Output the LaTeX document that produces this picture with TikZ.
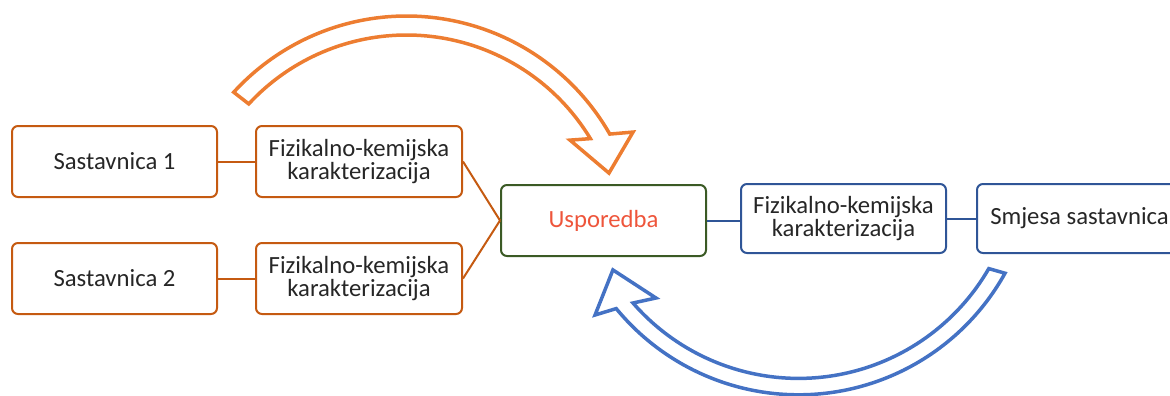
\documentclass[tikz,border=0pt]{standalone}
\usepackage{fontspec}
\setmainfont{Carlito}
\definecolor{txt}{HTML}{262626}
\definecolor{obox}{HTML}{C55A11}
\definecolor{oarr}{HTML}{ED7D31}
\definecolor{gbox}{HTML}{3B5A25}
\definecolor{bbox}{HTML}{2F5597}
\definecolor{barr}{HTML}{4472C4}
\definecolor{utxt}{HTML}{EE553B}
\begin{document}
\begin{tikzpicture}[x=1pt,y=1pt,
  boxbase/.style={rectangle, rounded corners=6pt, line width=2pt, minimum width=205pt, minimum height=71pt, align=center, text=txt, font=\fontsize{24.7}{23}\selectfont, inner sep=2pt},
  obx/.style={boxbase, draw=obox},
  gbx/.style={boxbase, draw=gbox, text=utxt},
  bbx/.style={boxbase, draw=bbox, minimum height=69pt},
  oline/.style={draw=obox, line width=2pt},
  bline/.style={draw=bbox, line width=2pt},
  oarrow/.style={draw=oarr, line width=3.5pt, line join=miter},
  barrow/.style={draw=barr, line width=3.5pt, line join=miter}]
\useasboundingbox (0,0) rectangle (1170,-396);
\clip (0,0) rectangle (1170,-396);
% nodes
\node[obx] (s1) at (114.5,-161.5) {Sastavnica 1};
\node[obx, minimum width=206pt] (f1) at (359,-161.5) {Fizikalno-kemijska\\karakterizacija};
\node[obx] (s2) at (114.5,-278.5) {Sastavnica 2};
\node[obx, minimum width=206pt] (f2) at (359,-278.5) {Fizikalno-kemijska\\karakterizacija};
\node[gbx] (u) at (603.5,-220.5) {Usporedba};
\node[bbx] (f3) at (843.5,-218.5) {Fizikalno-kemijska\\karakterizacija};
\node[bbx] (m) at (1079.5,-218.5) {Smjesa sastavnica};
% connectors
\draw[oline] (s1.east) -- (f1.west);
\draw[oline] (s2.east) -- (f2.west);
\draw[oline] (f1.east) -- (u.west);
\draw[oline] (f2.east) -- (u.west);
\draw[bline] (u.east) -- (u.east -| f3.west);
\draw[bline] (f3.east) -- (m.west);
% orange curved block arrow
\begin{scope}[shift={(406.5,-250)}]
\draw[oarrow] (137.6:234pt) arc[start angle=137.6, end angle=29.7, radius=234pt]
  -- (27.5:255.4pt) -- (20.8:216.6pt) -- (33.9:197pt) -- (31.2:215pt)
  arc[start angle=31.2, end angle=137.2, radius=215pt] -- cycle;
\end{scope}
% blue curved block arrow
\begin{scope}[shift={(798.6,-158.8)}]
\draw[barrow] (-29:236pt) arc[start angle=-29, end angle=-140.6, radius=236pt]
  -- (-142.5:256.6pt) -- (-149.1:216.4pt) -- (-135.7:199.3pt) -- (-138.95:219.6pt)
  arc[start angle=-138.95, end angle=-30, radius=219.6pt] -- cycle;
\end{scope}
\end{tikzpicture}
\end{document}
